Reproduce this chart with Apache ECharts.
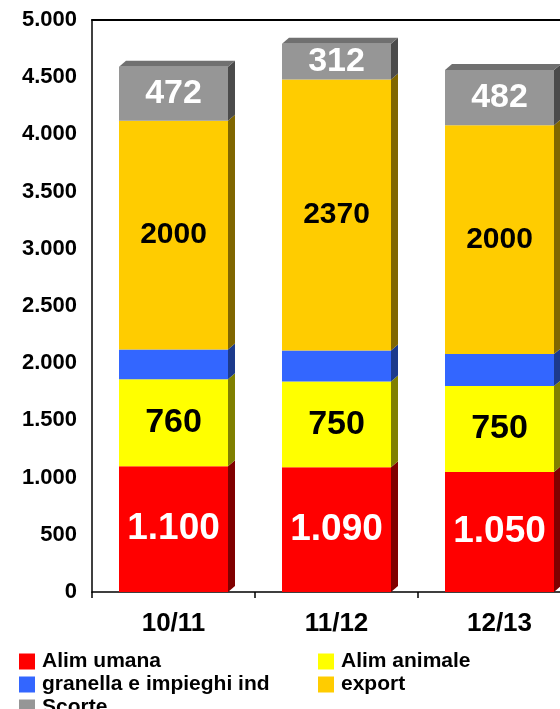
<!DOCTYPE html>
<html>
<head>
<meta charset="utf-8">
<style>
  html, body { margin: 0; padding: 0; background: #fff; }
  #chart { width: 560px; height: 709px; }
</style>
<script src="https://cdn.jsdelivr.net/npm/echarts@6/dist/echarts.min.js"></script>
</head>
<body>
<div id="chart"></div>
<script>
// dati (migliaia di t)
const categories = ["10/11", "11/12", "12/13"];
const alimUmana = [1100, 1090, 1050];
const alimAnimale = [760, 750, 750];
const granella = [260, 270, 280];
const exportVals = [2000, 2370, 2000];
const scorte = [472, 312, 482];

const seriesNames = ["Alim umana", "Alim animale", "granella e impieghi ind", "export", "Scorte"];
const stackData = [alimUmana, alimAnimale, granella, exportVals, scorte];
const frontColors = ["#FF0000", "#FFFF00", "#3366FF", "#FFCC00", "#969696"];
const sideColors = ["#800000", "#808000", "#1C3A8C", "#806600", "#4B4B4B"];
const topColor = "#707070";

const FONT = "'Liberation Sans', Arial, sans-serif";
const BAR_W = 109;
const DX = 7, DY = 6;

function puntini(v) {
  return String(v).replace(/\B(?=(\d{3})+(?!\d))/g, ".");
}

const labelCfg = [
  { show: true, color: "#fff", fontSize: 37, formatter: p => puntini(p.value) },
  { show: true, color: "#000", fontSize: 34 },
  { show: false },
  { show: true, color: "#000", fontSize: 30 },
  { show: true, color: "#fff", fontSize: 34 }
];

const barSeries = seriesNames.map((name, k) => ({
  name: name,
  type: "bar",
  stack: "tot",
  barWidth: BAR_W,
  data: stackData[k],
  itemStyle: { color: frontColors[k] },
  label: Object.assign({ position: "inside", fontWeight: "bold", fontFamily: FONT }, labelCfg[k]),
  emphasis: { disabled: true }
}));

// facce laterali e superiore per l'effetto 3D
function render3D(params, api) {
  const i = params.dataIndex;
  const xc = api.coord([i, 0])[0];
  const xl = xc - BAR_W / 2, xr = xc + BAR_W / 2;
  const children = [];
  let base = 0;
  stackData.forEach((arr, k) => {
    const top = base + arr[i];
    const yb = api.coord([i, base])[1];
    const yt = api.coord([i, top])[1];
    children.push({
      type: "polygon",
      shape: { points: [[xr, yt], [xr + DX, yt - DY], [xr + DX, yb - DY], [xr, yb]] },
      style: { fill: sideColors[k] }
    });
    if (k === stackData.length - 1) {
      children.push({
        type: "polygon",
        shape: { points: [[xl, yt], [xl + DX, yt - DY], [xr + DX, yt - DY], [xr, yt]] },
        style: { fill: topColor }
      });
    }
    base = top;
  });
  return { type: "group", children: children };
}

const totals = categories.map((c, i) => stackData.reduce((s, arr) => s + arr[i], 0));

// legenda su due colonne
const legendPos = [
  ["Alim umana", 19, 651],
  ["Alim animale", 318, 651],
  ["granella e impieghi ind", 19, 674],
  ["export", 318, 674],
  ["Scorte", 19, 697]
];
const legends = legendPos.map(([name, x, y]) => ({
  data: [name],
  left: x, top: y, padding: 0,
  itemWidth: 16, itemHeight: 16, icon: "rect",
  selectedMode: false,
  textStyle: { color: "#000", fontSize: 21, fontWeight: "bold", fontFamily: FONT, padding: [0, 0, 0, 2] }
}));

const chart = echarts.init(document.getElementById("chart"));
chart.setOption({
  animation: false,
  grid: { left: 92, width: 489, top: 20, height: 572, outerBoundsMode: "none", containLabel: false },
  xAxis: [
    {
      type: "category",
      data: categories,
      offset: 4,
      axisLine: { lineStyle: { color: "#000", width: 1.5 } },
      axisTick: { show: true, length: 6, lineStyle: { color: "#000", width: 1.5 } },
      axisLabel: { color: "#000", fontSize: 26, fontWeight: "bold", fontFamily: FONT, margin: 15 }
    },
    {
      type: "category",
      position: "top",
      data: categories,
      axisLine: { show: true, lineStyle: { color: "#000", width: 2 } },
      axisTick: { show: false },
      axisLabel: { show: false }
    }
  ],
  yAxis: {
    type: "value",
    min: 0,
    max: 5000,
    interval: 500,
    axisLine: { show: true, lineStyle: { color: "#000", width: 1.5 } },
    axisTick: { show: false },
    splitLine: { show: false },
    axisLabel: {
      color: "#000", fontSize: 22, fontWeight: "bold", fontFamily: FONT, margin: 15,
      formatter: v => puntini(v)
    }
  },
  legend: legends,
  series: barSeries.concat([{
    type: "custom",
    name: "3d",
    renderItem: render3D,
    data: totals.map((t, i) => [i, t]),
    encode: { x: 0, y: 1 },
    silent: true,
    z: 1
  }])
});
</script>
</body>
</html>
